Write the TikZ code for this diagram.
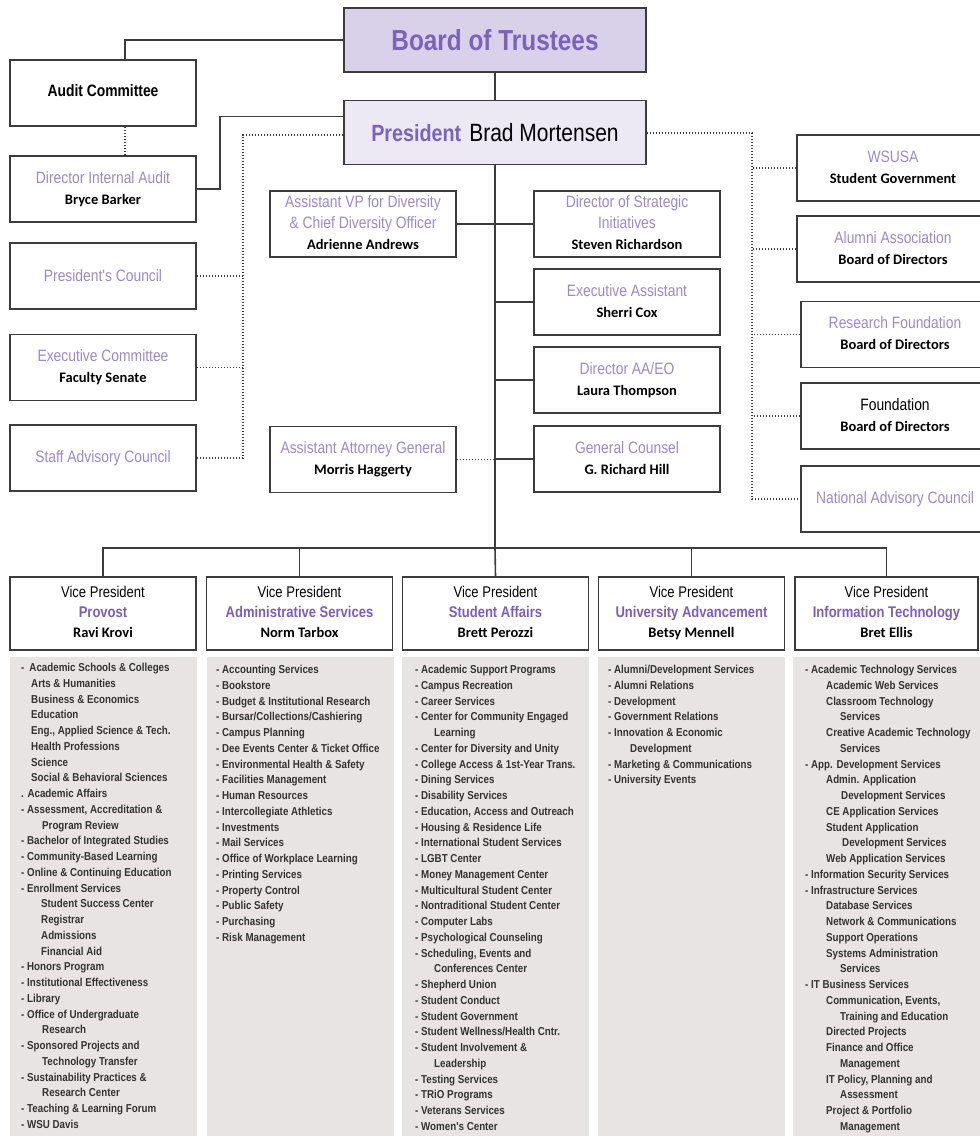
\documentclass[tikz,border=0pt]{standalone}
\usepackage{fontspec}
\setmainfont{Liberation Sans}
\newfontfamily\condfont[FakeStretch=0.84]{Liberation Sans}
\newfontfamily\listfont[FakeStretch=0.85]{Liberation Sans}
\newfontfamily\namefont{Carlito}

\definecolor{titlepurple}{HTML}{9C88CB}
\definecolor{vppurple}{HTML}{7C5DBE}
\definecolor{boardpurple}{HTML}{7B63B9}
\definecolor{boardfill}{HTML}{D9D0E9}
\definecolor{presfill}{HTML}{ECE8F4}
\definecolor{panelgray}{HTML}{E8E4E4}
\definecolor{linegray}{HTML}{3C3C3C}
\definecolor{listgray}{HTML}{333333}

\newcommand{\ttl}[1]{{\condfont\color{titlepurple}#1}}
\newcommand{\who}[1]{{\namefont\bfseries\fontsize{14.5}{20}\selectfont\vphantom{Bgy}#1}}
\newcommand{\vpttl}[1]{{\condfont\bfseries\color{vppurple}#1}}

\begin{document}
\begin{tikzpicture}[x=1pt, y=-1pt,
  box/.style={draw=linegray, line width=1.6pt, minimum width=186pt, minimum height=66pt, inner sep=0pt, align=center, font=\fontsize{16.5}{21}\selectfont},
  topbox/.style={box, minimum width=302pt, minimum height=64pt},
  sidebox/.style={box, minimum width=192pt},
  vpbox/.style={box, minimum height=73pt, font=\fontsize{15.5}{20}\selectfont},
  panel/.style={fill=panelgray, minimum width=187pt, minimum height=482pt, inner sep=0pt, anchor=north},
  listtext/.style={anchor=north west, inner sep=0pt, align=left, text=listgray, font=\listfont\bfseries\fontsize{11.5}{15.75}\selectfont},
  link/.style={draw=linegray, line width=1.6pt},
  dotlink/.style={draw=linegray, line width=1.8pt, dash pattern=on 1.6pt off 1.4pt}]
  \useasboundingbox (0,0) rectangle (980,1136);

  % top of the chart
  \node (board) [topbox, fill=boardfill] at (495,40) {\condfont\bfseries\color{boardpurple}\fontsize{29}{32}\selectfont Board of Trustees};
  \node (pres) [topbox, fill=presfill] at (495,132.5) {{\condfont\bfseries\color{boardpurple}\fontsize{23.5}{28}\selectfont President}\hspace{8pt}{\condfont\fontsize{25}{28}\selectfont Brad Mortensen}};

  % left column
  \node (audit) [box] at (103,93) {\raisebox{4pt}{\condfont\bfseries Audit Committee}};
  \node (dia) [box] at (103,189) {\ttl{Director Internal Audit}\\\who{Bryce Barker}};
  \node (pc) [box] at (103,276) {\ttl{President's Council}};
  \node (ec) [box] at (103,367.5) {\ttl{Executive Committee}\\\who{Faculty Senate}};
  \node (sac) [box] at (103,458) {\ttl{Staff Advisory Council}};

  % middle columns
  \node (avp) [box] at (363,224) {\ttl{Assistant VP for Diversity}\\\ttl{\& Chief Diversity Officer}\\\who{Adrienne Andrews}};
  \node (aag) [box] at (363,459.5) {\ttl{Assistant Attorney General}\\\who{Morris Haggerty}};
  \node (dsi) [box] at (627,224) {\ttl{Director of Strategic}\\\ttl{Initiatives}\\\who{Steven Richardson}};
  \node (ea) [box] at (627,302) {\ttl{Executive Assistant}\\\who{Sherri Cox}};
  \node (aaeo) [box] at (627,380) {\ttl{Director AA/EO}\\\who{Laura Thompson}};
  \node (gc) [box] at (627,459) {\ttl{General Counsel}\\\who{G. Richard Hill}};

  % right column
  \node (wsusa) [sidebox] at (893,168) {\ttl{WSUSA}\\\who{Student Government}};
  \node (alumni) [sidebox] at (893,249) {\ttl{Alumni Association}\\\who{Board of Directors}};
  \node (rf) [sidebox, minimum width=188pt] at (895,334.5) {\ttl{Research Foundation}\\\who{Board of Directors}};
  \node (fdn) [sidebox, minimum width=188pt] at (895,416) {{\condfont Foundation}\\\who{Board of Directors}};
  \node (nac) [sidebox, minimum width=188pt] at (895,499) {\ttl{National Advisory Council}};

  % vice presidents
  \node (vp1) [vpbox] at (103,613.5) {{\condfont Vice President}\\\vpttl{Provost}\\\who{Ravi Krovi}};
  \node (vp2) [vpbox] at (299.5,613.5) {{\condfont Vice President}\\\vpttl{Administrative Services}\\\who{Norm Tarbox}};
  \node (vp3) [vpbox] at (495.5,613.5) {{\condfont Vice President}\\\vpttl{Student Affairs}\\\who{Brett Perozzi}};
  \node (vp4) [vpbox] at (691.5,613.5) {{\condfont Vice President}\\\vpttl{University Advancement}\\\who{Betsy Mennell}};
  \node (vp5) [vpbox, minimum width=183pt] at (886.5,613.5) {{\condfont Vice President}\\\vpttl{Information Technology}\\\who{Bret Ellis}};

  \coordinate (bus) at (495,548);

  % connectors
  \draw [link] (board.west) -| ([xshift=22pt]audit.north);
  \draw [dotlink] ([xshift=22pt]audit.south) -- ([xshift=22pt]dia.north);
  \draw [link] (board.south) -- (pres.north);
  \draw [link] ([yshift=16pt]pres.west) -| ([xshift=23pt]dia.east) -- (dia.east);
  \draw [dotlink] ([yshift=-2.5pt]pres.west) -| ([xshift=46pt]sac.east) -- (sac.east);
  \draw [dotlink] (pc.east) -- ([xshift=46pt]pc.east);
  \draw [dotlink] (ec.east) -- ([xshift=46pt]ec.east);
  \draw [dotlink] ([yshift=-0.5pt]pres.east) -| ([xshift=-48pt]nac.west) -- (nac.west);
  \draw [dotlink] (wsusa.west) -- ([xshift=-44pt]wsusa.west);
  \draw [dotlink] (alumni.west) -- ([xshift=-44pt]alumni.west);
  \draw [dotlink] (rf.west) -- ([xshift=-48pt]rf.west);
  \draw [dotlink] (fdn.west) -- ([xshift=-48pt]fdn.west);

  \draw [link] (pres.south) -- (bus);
  \draw [link] (avp.east) -- (dsi.west);
  \draw [link] (ea.west) -- (ea.west -| bus);
  \draw [link] (aaeo.west) -- (aaeo.west -| bus);
  \draw [link] (gc.west) -- (gc.west -| bus);
  \draw [dotlink] (aag.east) -- (aag.east -| bus);

  \draw [link] (vp1.north) |- (bus) -| (vp5.north);
  \draw [link] (vp2.north) -- (vp2.north |- bus);
  \draw [link] (vp4.north) -- (vp4.north |- bus);
  \draw [link] (bus) -- (vp3.north);

  % unit lists
  \node (panel1) [panel] at (103,657) {};
  \node (panel2) [panel] at (300,657) {};
  \node (panel3) [panel] at (495.5,657) {};
  \node (panel4) [panel] at (691.5,657) {};
  \node (panel5) [panel] at (886.5,657) {};

  \node (list1) [listtext] at (21,663) {-\hspace{5pt}Academic Schools \& Colleges\\
    \hspace*{10pt}Arts \& Humanities\\
    \hspace*{10pt}Business \& Economics\\
    \hspace*{10pt}Education\\
    \hspace*{10pt}Eng., Applied Science \& Tech.\\
    \hspace*{10pt}Health Professions\\
    \hspace*{10pt}Science\\
    \hspace*{10pt}Social \& Behavioral Sciences\\
    . Academic Affairs\\
    - Assessment, Accreditation \&\\
    \hspace*{21pt}Program Review\\
    - Bachelor of Integrated Studies\\
    - Community-Based Learning\\
    - Online \& Continuing Education\\
    - Enrollment Services\\
    \hspace*{20pt}Student Success Center\\
    \hspace*{20pt}Registrar\\
    \hspace*{20pt}Admissions\\
    \hspace*{20pt}Financial Aid\\
    - Honors Program\\
    - Institutional Effectiveness\\
    - Library\\
    - Office of Undergraduate\\
    \hspace*{21pt}Research\\
    - Sponsored Projects and\\
    \hspace*{21pt}Technology Transfer\\
    - Sustainability Practices \&\\
    \hspace*{21pt}Research Center\\
    - Teaching \& Learning Forum\\
    - WSU Davis};

  \node (list2) [listtext] at (216,665) {- Accounting Services\\
    - Bookstore\\
    - Budget \& Institutional Research\\
    - Bursar/Collections/Cashiering\\
    - Campus Planning\\
    - Dee Events Center \& Ticket Office\\
    - Environmental Health \& Safety\\
    - Facilities Management\\
    - Human Resources\\
    - Intercollegiate Athletics\\
    - Investments\\
    - Mail Services\\
    - Office of Workplace Learning\\
    - Printing Services\\
    - Property Control\\
    - Public Safety\\
    - Purchasing\\
    - Risk Management};

  \node (list3) [listtext] at (415,665) {- Academic Support Programs\\
    - Campus Recreation\\
    - Career Services\\
    - Center for Community Engaged\\
    \hspace*{19pt}Learning\\
    - Center for Diversity and Unity\\
    - College Access \& 1st-Year Trans.\\
    - Dining Services\\
    - Disability Services\\
    - Education, Access and Outreach\\
    - Housing \& Residence Life\\
    - International Student Services\\
    - LGBT Center\\
    - Money Management Center\\
    - Multicultural Student Center\\
    - Nontraditional Student Center\\
    - Computer Labs\\
    - Psychological Counseling\\
    - Scheduling, Events and\\
    \hspace*{19pt}Conferences Center\\
    - Shepherd Union\\
    - Student Conduct\\
    - Student Government\\
    - Student Wellness/Health Cntr.\\
    - Student Involvement \&\\
    \hspace*{19pt}Leadership\\
    - Testing Services\\
    - TRiO Programs\\
    - Veterans Services\\
    - Women's Center};

  \node (list4) [listtext] at (608,665) {- Alumni/Development Services\\
    - Alumni Relations\\
    - Development\\
    - Government Relations\\
    - Innovation \& Economic\\
    \hspace*{22pt}Development\\
    - Marketing \& Communications\\
    - University Events};

  \node (list5) [listtext] at (805,665) {- Academic Technology Services\\
    \hspace*{21pt}Academic Web Services\\
    \hspace*{21pt}Classroom Technology\\
    \hspace*{35pt}Services\\
    \hspace*{21pt}Creative Academic Technology\\
    \hspace*{35pt}Services\\
    - App. Development Services\\
    \hspace*{21pt}Admin. Application\\
    \hspace*{36pt}Development Services\\
    \hspace*{21pt}CE Application Services\\
    \hspace*{21pt}Student Application\\
    \hspace*{37pt}Development Services\\
    \hspace*{21pt}Web Application Services\\
    - Information Security Services\\
    - Infrastructure Services\\
    \hspace*{21pt}Database Services\\
    \hspace*{21pt}Network \& Communications\\
    \hspace*{21pt}Support Operations\\
    \hspace*{21pt}Systems Administration\\
    \hspace*{35pt}Services\\
    - IT Business Services\\
    \hspace*{21pt}Communication, Events,\\
    \hspace*{35pt}Training and Education\\
    \hspace*{21pt}Directed Projects\\
    \hspace*{21pt}Finance and Office\\
    \hspace*{35pt}Management\\
    \hspace*{21pt}IT Policy, Planning and\\
    \hspace*{35pt}Assessment\\
    \hspace*{21pt}Project \& Portfolio\\
    \hspace*{35pt}Management};
\end{tikzpicture}
\end{document}
